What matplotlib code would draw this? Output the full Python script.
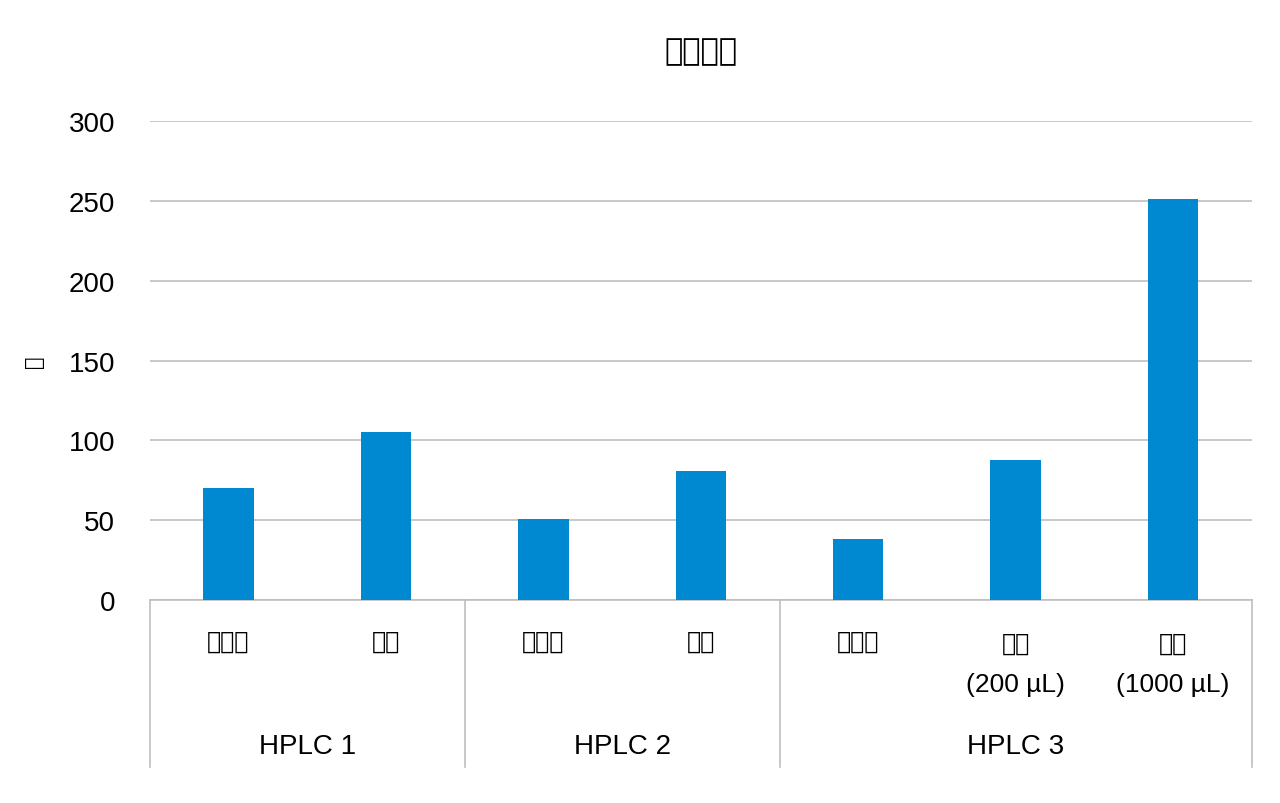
import matplotlib
matplotlib.use("Agg")
import matplotlib.pyplot as plt
from matplotlib import font_manager

plt.rcParams["font.family"] = "Liberation Sans"
cjk = "Noto Sans CJK SC"
for f in font_manager.fontManager.ttflist:
    if "CJK SC" in f.name:
        cjk = f.name
        break

categories = ["不清洗", "清洗", "不清洗", "清洗", "不清洗", "清洗\n(200 µL)", "清洗\n(1000 µL)"]
values = [70, 105, 51, 81, 38, 88, 251]
groups = ["HPLC 1", "HPLC 2", "HPLC 3"]
group_spans = [(0, 1), (2, 3), (4, 6)]
yticks = [0, 50, 100, 150, 200, 250, 300]

fig = plt.figure(figsize=(12.8, 8.04), dpi=100)
ax = fig.add_axes([0.117, 0.2525, 0.861, 0.5955])

x = list(range(len(values)))
ax.bar(x, values, width=0.32, color="#0088D1", zorder=3)
ax.set_xlim(-0.5, len(values) - 0.5)
ax.set_ylim(0, 300)
ax.set_yticks(yticks)
ax.tick_params(axis="y", length=0, labelsize=20, pad=25)
ax.set_xticks([])
ax.grid(axis="y", color="#BFBFBF", linewidth=1.2, zorder=0)
for s in ["top", "right", "left"]:
    ax.spines[s].set_visible(False)
ax.spines["bottom"].set_color("#BFBFBF")
ax.spines["bottom"].set_linewidth(1.2)

ax.set_ylabel("秒", fontsize=15, labelpad=18, family=cjk)
ax.set_title("进样周期", fontsize=22, pad=45, family=cjk)

trans = ax.get_xaxis_transform()
for xi, lab in zip(x, categories):
    if "\n" in lab:
        top, bottom = lab.split("\n")
        ax.text(xi, -0.09, top, transform=trans, ha="center", va="center",
                fontsize=17, family=cjk)
        ax.text(xi, -0.175, bottom, transform=trans, ha="center", va="center",
                fontsize=19)
    else:
        ax.text(xi, -0.085, lab, transform=trans, ha="center", va="center",
                fontsize=17, family=cjk)

bounds = [-0.5, 1.5, 3.5, 6.5]
for b in bounds:
    ax.plot([b, b], [0, -0.349], transform=trans, color="#BFBFBF",
            linewidth=1.2, clip_on=False)
for g, (a, b) in zip(groups, group_spans):
    ax.text((a + b) / 2, -0.305, g, transform=trans, ha="center", va="center", fontsize=20)

fig.savefig("out.png", dpi=100)
